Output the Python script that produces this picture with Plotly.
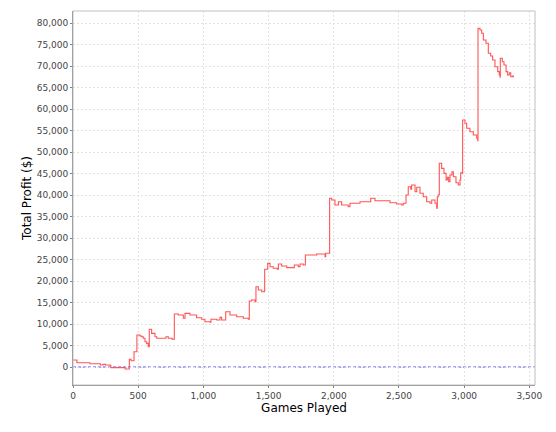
import plotly.graph_objects as go

# partidas jugadas y beneficio acumulado
games = [0, 30, 130, 210, 230, 250, 285, 290, 400, 432, 445, 468, 490, 514, 527,
         539, 552, 565, 577, 585, 603, 629, 642, 667, 705, 713, 731, 760, 777,
         808, 846, 859, 897, 948, 987, 1012, 1051, 1058, 1102, 1127, 1140, 1171,
         1204, 1255, 1306, 1345, 1352, 1370, 1396, 1403, 1421, 1447, 1467, 1470,
         1493, 1511, 1536, 1567, 1575, 1600, 1639, 1690, 1697, 1728, 1741, 1766,
         1782, 1805, 1869, 1933, 1938, 1966, 1968, 1984, 2009, 2035, 2060, 2111,
         2124, 2175, 2201, 2278, 2283, 2316, 2380, 2431, 2482, 2521, 2533, 2554,
         2571, 2590, 2597, 2623, 2636, 2661, 2686, 2712, 2738, 2751, 2776, 2789,
         2794, 2801, 2809, 2827, 2845, 2861, 2871, 2881, 2891, 2906, 2917, 2937,
         2955, 2968, 2973, 2986, 2988, 3006, 3019, 3044, 3070, 3096, 3104, 3106,
         3121, 3134, 3147, 3167, 3185, 3203, 3218, 3236, 3257, 3269, 3275, 3277,
         3292, 3305, 3321, 3333, 3346, 3357, 3369, 3377]
profit = [1630, 1000, 770, 465, 620, 465, 350, -150, -460, 1790, 1470, 3560, 7440,
          7200, 7050, 6670, 5880, 5500, 4720, 8770, 7830, 7050, 6670, 6670, 6670,
          7050, 6670, 6440, 12330, 12090, 11320, 12480, 12090, 11470, 11090, 10540,
          10390, 11090, 10930, 11550, 10930, 12860, 12090, 11700, 11320, 11090,
          15350, 15580, 15190, 18670, 17910, 17510, 17740, 22720, 24110, 23330,
          22950, 22720, 23950, 23490, 23100, 23100, 23720, 23330, 23950, 23720,
          26050, 26050, 26280, 25650, 26440, 26440, 39230, 38840, 37670, 38440,
          37670, 37280, 38070, 38070, 38440, 38440, 39230, 38670, 38670, 38210,
          37910, 37670, 38070, 40000, 41930, 41320, 42330, 40770, 41790, 40400,
          39600, 38440, 38070, 38840, 38070, 36910, 39600, 40000, 47370, 46200,
          45040, 43490, 44110, 43100, 44650, 45420, 44260, 42860, 42330, 43490,
          45190, 45040, 57440, 56670, 55510, 54720, 53950, 53180, 52630, 78770,
          78370, 77600, 76050, 75280, 72950, 72330, 71400, 69840, 68680, 67910,
          67370, 71790, 71000, 70230, 68680, 67910, 68440, 67510, 67670, 67370]

x_ticks = [0, 500, 1000, 1500, 2000, 2500, 3000, 3500]
y_ticks = list(range(0, 80001, 5000))

fig = go.Figure(go.Scatter(
    x=games, y=profit, mode="lines", line_shape="hv",
    line=dict(color="#ff5555", width=1.1), showlegend=False,
))

# línea de cero punteada azul
fig.add_shape(type="line", xref="paper", x0=0, x1=1, yref="y", y0=0, y1=0,
              line=dict(color="#5555ff", width=1, dash="3px,2px"), layer="below")
# borde del área de trazado
fig.add_shape(type="rect", xref="paper", yref="paper", x0=0, x1=1, y0=0, y1=1,
              line=dict(color="#c0c0c0", width=1), layer="above")

# la página añade 8px de margen, así que se compensa en el tamaño
fig.update_layout(
    width=548, height=424,
    margin=dict(l=65, r=21, t=3, b=47),
    plot_bgcolor="white", paper_bgcolor="white",
    font=dict(family="DejaVu Sans", color="#444444"),
)
fig.update_xaxes(
    range=[0, 3543], tickvals=x_ticks, tickformat=",d", automargin=False,
    title=dict(text="Games Played", font=dict(size=12, color="#000000"), standoff=3),
    tickfont=dict(size=9, color="#444444"),
    showgrid=True, gridcolor="#e2e2e2", griddash="2px,2px", gridwidth=1,
    showline=True, linecolor="#808080", linewidth=1,
    ticks="outside", ticklen=2, tickcolor="#808080", zeroline=False,
)
fig.update_yaxes(
    range=[-4186, 82790], tickvals=y_ticks, tickformat=",d", automargin=False,
    title=dict(text="Total Profit ($)", font=dict(size=12, color="#000000"), standoff=2),
    tickfont=dict(size=9, color="#444444"),
    showgrid=True, gridcolor="#e2e2e2", griddash="2px,2px", gridwidth=1,
    showline=True, linecolor="#808080", linewidth=1,
    ticks="outside", ticklen=2, tickcolor="#808080", zeroline=False,
)

fig.write_html("out.html")
